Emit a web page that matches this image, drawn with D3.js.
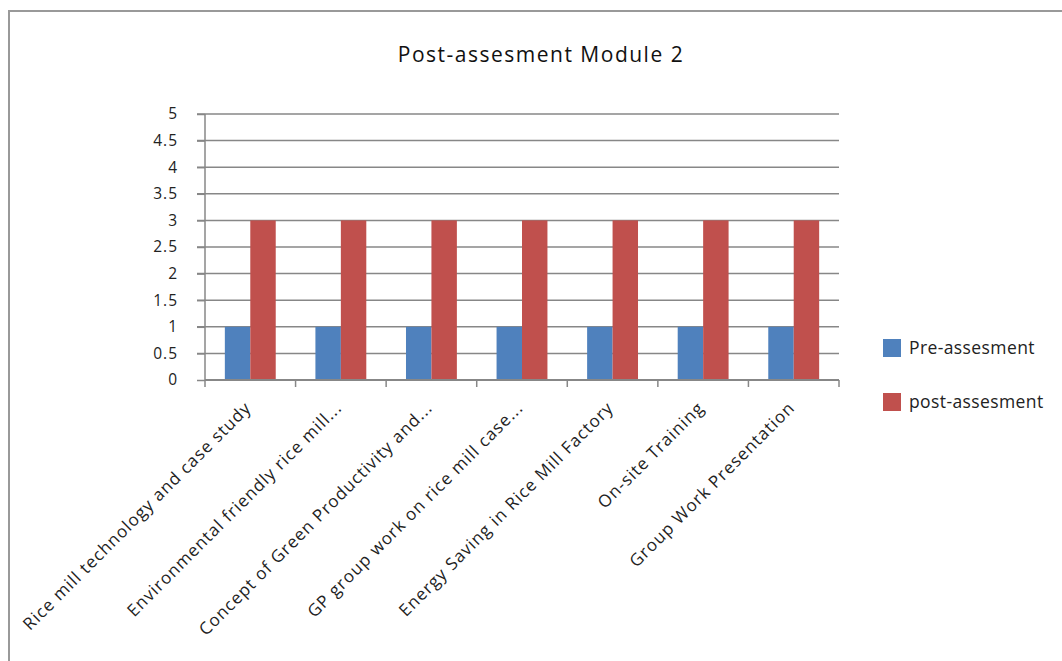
<!DOCTYPE html>
<html><head><meta charset="utf-8">
<script src="https://cdn.jsdelivr.net/npm/d3@7"></script>
<style>body{margin:0;background:#fff;} text{font-family:"Open Sans",sans-serif;}</style>
</head><body>
<svg id="c" width="1062" height="661"></svg>
<script>
const categories = ["Rice mill technology and case study","Environmental friendly rice mill...","Concept of Green Productivity and...","GP group work on rice mill case...","Energy Saving in Rice Mill Factory","On-site Training","Group Work Presentation"];
const seriesNames = ["Pre-assesment","post-assesment"];
const preValues = [1,1,1,1,1,1,1];
const postValues = [3,3,3,3,3,3,3];
const yTicks = [0,0.5,1,1.5,2,2.5,3,3.5,4,4.5,5];
const colors = ["#4f81bd","#c0504d"];
const title = "Post-assesment Module 2";

const svg = d3.select("#c");
svg.append("rect").attr("x",9).attr("y",11).attr("width",1070).attr("height",670)
  .attr("fill","#fff").attr("stroke","#999").attr("stroke-width",2);

const pLeft=205, pRight=839, pTop=114, pBottom=380;
const x = d3.scaleBand().domain(categories).range([pLeft,pRight]).paddingInner(0).paddingOuter(0);
const x1 = d3.scaleBand().domain(seriesNames).range([0,x.bandwidth()]).paddingInner(0).paddingOuter(0.78);
const y = d3.scaleLinear().domain([0,5]).range([pBottom,pTop]);

// gridlines
svg.append("g").selectAll("line").data(yTicks.filter(d=>d>0)).join("line")
  .attr("x1",pLeft-8).attr("x2",pRight).attr("y1",d=>y(d)).attr("y2",d=>y(d))
  .attr("stroke","#878787").attr("stroke-width",1.5);

// bars
const data = categories.map((c,i)=>({c, vals:[preValues[i],postValues[i]]}));
const g = svg.append("g");
data.forEach(d=>{
  d.vals.forEach((v,j)=>{
    g.append("rect").attr("x",x(d.c)+x1(seriesNames[j])).attr("width",x1.bandwidth())
      .attr("y",y(v)).attr("height",y(0)-y(v)).attr("fill",colors[j]);
  });
});

// y axis
const yAxis = d3.axisLeft(y).tickValues(yTicks).tickSize(8).tickFormat(d=>String(d));
const ya = svg.append("g").attr("transform",`translate(${pLeft},0)`).call(yAxis);
ya.select(".domain").attr("stroke","#878787").attr("stroke-width",1.5).attr("d",`M0,${pTop}V${pBottom}`);
ya.selectAll(".tick line").attr("stroke","#878787").attr("stroke-width",1.5);
ya.selectAll(".tick text").attr("x",-27).attr("font-size",15.5).attr("letter-spacing",1)
  .attr("fill","#222").attr("font-family","Open Sans");

// x axis
const xa = svg.append("g").attr("transform",`translate(0,${pBottom})`);
xa.append("line").attr("x1",pLeft).attr("x2",pRight).attr("y1",0).attr("y2",0).attr("stroke","#878787").attr("stroke-width",2);
const bounds = categories.map(c=>x(c)).concat([pRight]);
xa.selectAll("line.t").data(bounds).join("line").attr("class","t")
  .attr("x1",d=>d).attr("x2",d=>d).attr("y1",0).attr("y2",7).attr("stroke","#878787").attr("stroke-width",1.5);
xa.selectAll("text").data(categories).join("text")
  .attr("transform",d=>`translate(${x(d)+x.bandwidth()/2+2},${29}) rotate(-45)`)
  .attr("text-anchor","end").attr("font-size",17).attr("letter-spacing",1.0).attr("fill","#222").text(d=>d);

// title
svg.append("text").attr("x",541).attr("y",62).attr("text-anchor","middle")
  .attr("font-size",21).attr("letter-spacing",1.5).attr("fill","#111").text(title);

// legend
const lg = svg.append("g");
seriesNames.forEach((s,i)=>{
  lg.append("rect").attr("x",883).attr("y",339+i*54).attr("width",18).attr("height",18).attr("fill",colors[i]);
  lg.append("text").attr("x",909).attr("y",354+i*54).attr("font-size",17.5).attr("letter-spacing",0.4).attr("fill","#222").text(s);
});
</script>
</body></html>
